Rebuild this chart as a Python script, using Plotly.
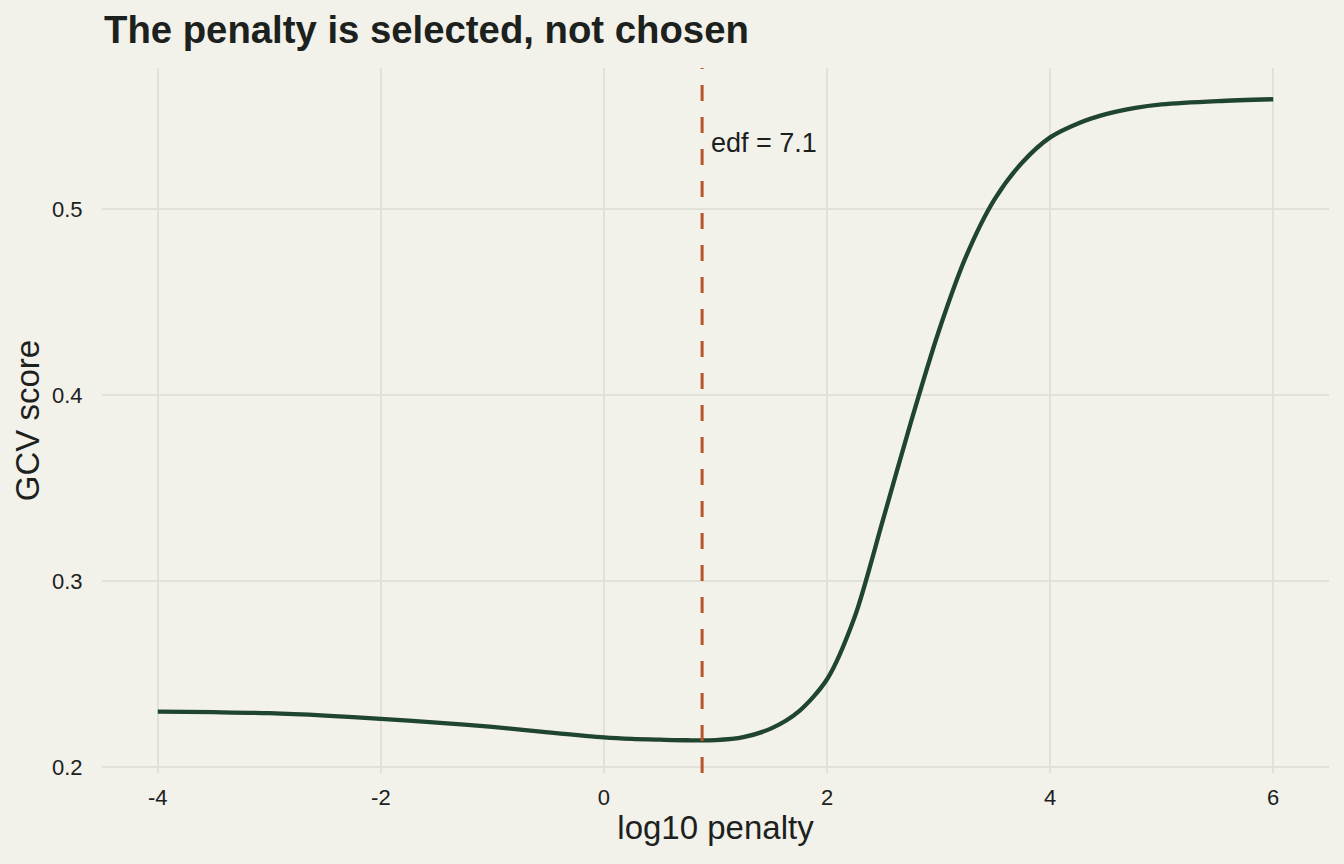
import plotly.graph_objects as go

# log10 penalty grid and GCV scores
log10_penalty = [-4.0, -3.5, -3.0, -2.5, -2.0, -1.5, -1.0, -0.5, 0.0, 0.25, 0.5, 0.75,
                 1.0, 1.25, 1.5, 1.75, 2.0, 2.25, 2.5, 2.75, 3.0, 3.25, 3.5, 3.75,
                 4.0, 4.25, 4.5, 4.75, 5.0, 5.5, 6.0]
gcv_score = [0.2297, 0.2294, 0.2289, 0.2276, 0.2258, 0.2238, 0.2215, 0.2185, 0.2158,
             0.2150, 0.2146, 0.2143, 0.2144, 0.2160, 0.2207, 0.2300, 0.2471, 0.2810,
             0.3325, 0.3850, 0.4340, 0.4750, 0.5050, 0.5250, 0.5385, 0.5460, 0.5510,
             0.5542, 0.5562, 0.5580, 0.5590]
opt_log10_penalty = 0.88
edf_label = "edf = 7.1"
x_ticks = [-4, -2, 0, 2, 4, 6]
y_ticks = [0.2, 0.3, 0.4, 0.5]

BG = "#F2F1EA"
GRID = "#E1E0D9"
TEXT = "#1C211D"
LINE = "#1F4430"
ACCENT = "#B9532B"
FONT = "Liberation Sans, Arial, sans-serif"

fig = go.Figure()
fig.add_trace(go.Scatter(x=log10_penalty, y=gcv_score, mode="lines",
                         line=dict(color=LINE, width=4.3, shape="spline", smoothing=0.8),
                         hoverinfo="x+y", showlegend=False))

fig.add_vline(x=opt_log10_penalty, line=dict(color=ACCENT, width=3, dash="16px,16px"))
fig.add_annotation(x=opt_log10_penalty, y=0.5355, text=edf_label, showarrow=False,
                   xanchor="left", yanchor="middle", xshift=7,
                   font=dict(family=FONT, size=27, color=TEXT))

fig.update_layout(
    width=1344, height=864,
    paper_bgcolor=BG, plot_bgcolor=BG,
    margin=dict(l=102, r=15, t=68, b=91),
    font=dict(family=FONT, color=TEXT),
    title=dict(text="<b>The penalty is selected, not chosen</b>", x=104/1344, xanchor="left",
               y=1 - 30/864, yanchor="middle", font=dict(family=FONT, size=38.3, color=TEXT)),
)
fig.update_xaxes(range=[-4.5, 6.5], tickvals=x_ticks, ticktext=[str(v) for v in x_ticks],
                 showgrid=True, gridcolor=GRID, gridwidth=1.5, zeroline=False, showline=False,
                 ticks="outside", ticklen=5, tickcolor="rgba(0,0,0,0)",
                 tickfont=dict(family=FONT, size=22, color=TEXT),
                 title=dict(text="log10 penalty", font=dict(family=FONT, size=33, color=TEXT), standoff=6))
fig.update_yaxes(range=[0.1967, 0.5758], tickvals=y_ticks, ticktext=[f"{v:.1f}" for v in y_ticks],
                 showgrid=True, gridcolor=GRID, gridwidth=1.5, zeroline=False, showline=False,
                 ticks="outside", ticklen=14, tickcolor="rgba(0,0,0,0)",
                 tickfont=dict(family=FONT, size=22, color=TEXT),
                 title=dict(text="GCV score", font=dict(family=FONT, size=33, color=TEXT), standoff=2))

fig.write_html("out.html")
